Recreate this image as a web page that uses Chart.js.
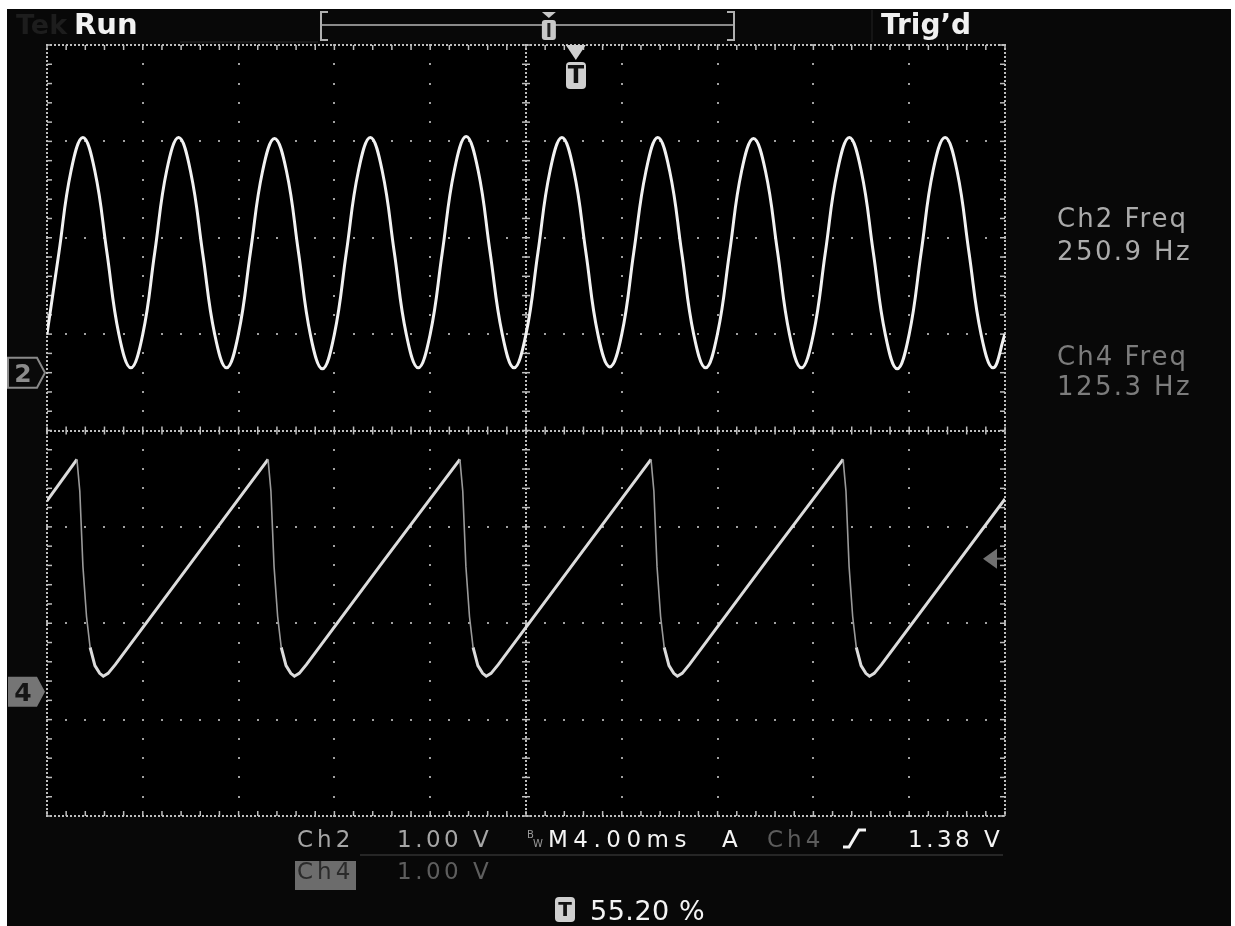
<!DOCTYPE html>
<html>
<head>
<meta charset="utf-8">
<script src="https://cdn.jsdelivr.net/npm/chart.js@4.4.1/dist/chart.umd.min.js"></script>
<style>
  html, body { margin: 0; padding: 0; background: #fff; }
  body { width: 1235px; height: 926px; position: relative; overflow: hidden; font-family: "DejaVu Sans", sans-serif; }
  #frame { position: absolute; left: 7px; top: 9px; width: 1224px; height: 917px; background: #080808; }
  #scope { position: absolute; left: 0; top: 0; }
  #deco { position: absolute; left: 0; top: 0; }
  .lbl { position: absolute; line-height: 1; white-space: pre; }
  .b { font-weight: bold; }
  .icon { position: absolute; background: #cfcfcf; border-radius: 4px; color: #111; font-weight: bold; text-align: center; }
</style>
</head>
<body>
<div id="frame"></div>
<canvas id="scope" width="1235" height="926"></canvas>
<svg id="deco" width="1235" height="926"></svg>

<!-- top bar -->
<div class="lbl b" style="left:16px;top:11px;font-size:27px;color:#1d1d1d">Tek</div>
<div class="lbl b" style="left:74px;top:10px;font-size:29px;color:#f2f2f2">Run</div>
<div class="lbl b" style="left:881px;top:11px;font-size:28px;color:#f0f0f0">Trig’d</div>

<!-- measurements -->
<div class="lbl" style="left:1057px;top:205px;font-size:26px;color:#ababab;letter-spacing:2px">Ch2 Freq</div>
<div class="lbl" style="left:1057px;top:238px;font-size:26px;color:#ababab;letter-spacing:2.4px">250.9 Hz</div>
<div class="lbl" style="left:1057px;top:343px;font-size:26px;color:#7c7c7c;letter-spacing:2px">Ch4 Freq</div>
<div class="lbl" style="left:1057px;top:373px;font-size:26px;color:#7c7c7c;letter-spacing:2.4px">125.3 Hz</div>

<!-- bottom readout -->
<div class="lbl" style="left:297px;top:828px;font-size:23px;color:#a6a6a6;letter-spacing:4px">Ch2</div>
<div class="lbl" style="left:397px;top:828px;font-size:23px;color:#a6a6a6;letter-spacing:3.5px">1.00 V</div>
<div class="lbl" style="left:527px;top:830px;font-size:10px;color:#999">B</div>
<div class="lbl" style="left:533px;top:839px;font-size:10px;color:#999">W</div>
<div class="lbl" style="left:548px;top:828px;font-size:23px;color:#f4f4f4;letter-spacing:5.5px">M4.00ms</div>
<div class="lbl" style="left:722px;top:828px;font-size:23px;color:#f4f4f4">A</div>
<div class="lbl" style="left:767px;top:828px;font-size:23px;color:#5c5c5c;letter-spacing:4px">Ch4</div>
<div class="lbl" style="left:908px;top:828px;font-size:23px;color:#f4f4f4;letter-spacing:3.5px">1.38 V</div>
<div style="position:absolute;left:295px;top:861px;width:61px;height:29px;background:#6c6c6c"></div>
<div class="lbl" style="left:297px;top:860px;font-size:23px;color:#2b2b2b;letter-spacing:4px">Ch4</div>
<div class="lbl" style="left:397px;top:860px;font-size:23px;color:#5e5e5e;letter-spacing:3.5px">1.00 V</div>
<div class="icon" style="left:555px;top:897px;width:20px;height:25px;font-size:20px;line-height:25px">T</div>
<div class="lbl" style="left:590px;top:897px;font-size:27px;color:#f4f4f4;letter-spacing:0.5px">55.20 %</div>

<script>
// Ch2: sine, sampled every 0.5 ms (volts)
const ch2Step = 0.5;
const ch2Volts = [
  0.40, 1.25, 2.09, 2.44, 2.09, 1.25, 0.40, 0.05,
  0.40, 1.25, 2.10, 2.44, 2.08, 1.24, 0.40, 0.05,
  0.41, 1.26, 2.09, 2.43, 2.09, 1.25, 0.39, 0.04,
  0.40, 1.25, 2.09, 2.44, 2.09, 1.25, 0.40, 0.05,
  0.40, 1.24, 2.09, 2.45, 2.10, 1.25, 0.41, 0.05,
  0.40, 1.25, 2.09, 2.44, 2.09, 1.25, 0.40, 0.06,
  0.40, 1.25, 2.08, 2.44, 2.09, 1.25, 0.40, 0.05,
  0.41, 1.25, 2.09, 2.43, 2.09, 1.26, 0.40, 0.05,
  0.40, 1.25, 2.09, 2.44, 2.09, 1.25, 0.40, 0.04,
  0.40, 1.25, 2.10, 2.44, 2.09, 1.24, 0.40, 0.05,
  0.40
];

// Ch4: sawtooth (ms, volts)
const ch4Times = [
  0,
  1.25, 1.37, 1.50, 1.65, 1.80, 2.00, 2.20, 2.35, 2.55, 2.85, 6.05,
  9.23, 9.35, 9.48, 9.63, 9.78, 9.98, 10.18, 10.33, 10.53, 10.83, 14.03,
  17.24, 17.36, 17.49, 17.64, 17.79, 17.99, 18.19, 18.34, 18.54, 18.84, 22.04,
  25.22, 25.34, 25.47, 25.62, 25.77, 25.97, 26.17, 26.32, 26.52, 26.82, 30.02,
  33.24, 33.36, 33.49, 33.64, 33.79, 33.99, 34.19, 34.34, 34.54, 34.84, 40.0
];
const ch4Volts = [
  1.98,
  2.41, 2.08, 1.30, 0.78, 0.46, 0.27, 0.19, 0.16, 0.19, 0.28, 1.35,
  2.41, 2.08, 1.30, 0.78, 0.46, 0.27, 0.19, 0.16, 0.19, 0.28, 1.35,
  2.41, 2.08, 1.30, 0.78, 0.46, 0.27, 0.19, 0.16, 0.19, 0.28, 1.35,
  2.41, 2.08, 1.30, 0.78, 0.46, 0.27, 0.19, 0.16, 0.19, 0.28, 1.35,
  2.41, 2.08, 1.30, 0.78, 0.46, 0.27, 0.19, 0.16, 0.19, 0.28, 2.00
];

const sweepMs = 40;          // 10 div x 4.00 ms
const ch2Range = [-4.6, 3.4]; // 1.00 V/div, 8 div
const ch4Range = [-1.29, 6.71];
const triggerPct = 55.2;
const triggerLevel = 1.38;

const graticule = {
  id: 'graticule',
  beforeDatasetsDraw(chart) {
    const { ctx, chartArea: a, scales: { x, yg } } = chart;
    ctx.save();
    ctx.fillStyle = '#000';
    ctx.fillRect(a.left, a.top, a.right - a.left, a.bottom - a.top);

    const dot = (px, py, c) => {
      ctx.fillStyle = c;
      ctx.fillRect(Math.round(px) - 1, Math.round(py) - 1, 2, 2);
    };
    const line = (x1, y1, x2, y2, c) => {
      ctx.strokeStyle = c;
      ctx.lineWidth = 1.5;
      ctx.beginPath();
      ctx.moveTo(x1, y1);
      ctx.lineTo(x2, y2);
      ctx.stroke();
    };

    // inner grid: dots every 1/5 division
    for (let i = 1; i < 10; i++) {
      if (i === 5) continue;
      const px = x.getPixelForValue(i * 4);
      for (let j = 0; j <= 40; j++) dot(px, yg.getPixelForValue(-4 + j * 0.2), '#a0a0a0');
    }
    for (let i = -3; i <= 3; i++) {
      if (i === 0) continue;
      const py = yg.getPixelForValue(i);
      for (let j = 0; j <= 50; j++) dot(x.getPixelForValue(j * 0.8), py, '#a0a0a0');
    }

    // center axes and border: dense dots + minor ticks
    const cx = x.getPixelForValue(sweepMs / 2);
    const cy = yg.getPixelForValue(0);
    const c = '#bdbdbd';
    for (let p = a.top; p <= a.bottom; p += 4) {
      dot(cx, p, c); dot(a.left, p, c); dot(a.right, p, c);
    }
    for (let p = a.left; p <= a.right; p += 4) {
      dot(p, cy, c); dot(p, a.top, c); dot(p, a.bottom, c);
    }
    for (let j = 0; j <= 40; j++) {
      const py = yg.getPixelForValue(-4 + j * 0.2);
      line(cx - 4, py, cx + 4, py, c);
      line(a.left, py, a.left + 5, py, c);
      line(a.right - 5, py, a.right, py, c);
    }
    for (let j = 0; j <= 50; j++) {
      const px = x.getPixelForValue(j * 0.8);
      line(px, cy - 4, px, cy + 4, c);
      line(px, a.top, px, a.top + 5, c);
      line(px, a.bottom - 5, px, a.bottom, c);
    }
    ctx.restore();
  }
};

const chart = new Chart(document.getElementById('scope'), {
  type: 'scatter',
  data: {
    datasets: [
      {
        label: 'Ch2',
        data: ch2Volts.map((v, i) => ({ x: i * ch2Step, y: v })),
        yAxisID: 'y2',
        showLine: true,
        borderColor: '#f2f2f2',
        borderWidth: 3,
        pointRadius: 0,
        tension: 0.42
      },
      {
        label: 'Ch4',
        data: ch4Times.map((t, i) => ({ x: t, y: ch4Volts[i] })),
        yAxisID: 'y4',
        showLine: true,
        borderColor: '#dcdcdc',
        borderWidth: 3,
        pointRadius: 0,
        tension: 0,
        segment: {
          borderColor: s => (s.p0.parsed.y - s.p1.parsed.y > 0.25 ? '#9a9a9a' : undefined),
          borderWidth: s => (s.p0.parsed.y - s.p1.parsed.y > 0.25 ? 1.6 : undefined)
        }
      }
    ]
  },
  options: {
    responsive: false,
    animation: false,
    layout: { padding: { left: 47, top: 45, right: 230, bottom: 110 } },
    plugins: { legend: { display: false }, tooltip: { enabled: false } },
    scales: {
      x: { type: 'linear', min: 0, max: sweepMs, display: false },
      y2: { min: ch2Range[0], max: ch2Range[1], display: false },
      y4: { min: ch4Range[0], max: ch4Range[1], display: false },
      yg: { min: -4, max: 4, display: false }
    }
  },
  plugins: [graticule]
});

// decorations placed from the chart scales
const svg = document.getElementById('deco');
function shape(tag, attrs) {
  const el = document.createElementNS('http://www.w3.org/2000/svg', tag);
  for (const k in attrs) el.setAttribute(k, attrs[k]);
  svg.appendChild(el);
  return el;
}

const xs = chart.scales.x;
const area = chart.chartArea;

// record bar at the top
const barL = 322, barR = 733;
shape('polyline', { points: '328,12 321,12 321,40 328,40', fill: 'none', stroke: '#b0b0b0', 'stroke-width': 2 });
shape('polyline', { points: '727,12 734,12 734,40 727,40', fill: 'none', stroke: '#b0b0b0', 'stroke-width': 2 });
shape('line', { x1: barL, y1: 25, x2: barR, y2: 25, stroke: '#8a8a8a', 'stroke-width': 2 });
const ux = barL + (barR - barL) * triggerPct / 100;
shape('polygon', { points: `${ux - 7},12 ${ux + 7},12 ${ux},18`, fill: '#c8c8c8' });
shape('rect', { x: ux - 7, y: 20, width: 14, height: 20, rx: 3, fill: '#c8c8c8' });
shape('line', { x1: ux, y1: 23, x2: ux, y2: 37, stroke: '#222', 'stroke-width': 3 });
shape('line', { x1: 180, y1: 42, x2: 318, y2: 42, stroke: '#2a2a2a', 'stroke-width': 1 });
shape('line', { x1: 872, y1: 10, x2: 872, y2: 42, stroke: '#222', 'stroke-width': 1 });

// trigger position marker
const tx = xs.getPixelForValue(sweepMs * triggerPct / 100);
shape('polygon', { points: `${tx - 10},${area.top} ${tx + 10},${area.top} ${tx},${area.top + 15}`, fill: '#cfcfcf' });
const tIcon = document.createElement('div');
tIcon.className = 'icon';
tIcon.textContent = 'T';
Object.assign(tIcon.style, { left: (tx - 10) + 'px', top: (area.top + 17) + 'px', width: '20px', height: '27px', fontSize: '24px', lineHeight: '27px' });
document.body.appendChild(tIcon);

// trigger level arrow on the right
const ty = chart.scales.y4.getPixelForValue(triggerLevel);
shape('polygon', { points: `${area.right - 22},${ty} ${area.right - 8},${ty - 10} ${area.right - 8},${ty + 10}`, fill: '#707070' });
shape('line', { x1: area.right - 8, y1: ty, x2: area.right, y2: ty, stroke: '#707070', 'stroke-width': 2 });

// channel ground markers
function groundMarker(y, label, filled) {
  const pts = `8,${y - 15} 37,${y - 15} 45,${y} 37,${y + 15} 8,${y + 15}`;
  if (filled) shape('polygon', { points: pts, fill: '#757575' });
  else shape('polygon', { points: pts, fill: '#0a0a0a', stroke: '#8a8a8a', 'stroke-width': 2 });
  const t = shape('text', { x: 23, y: y + 9, 'text-anchor': 'middle', 'font-family': 'DejaVu Sans', 'font-size': 25, 'font-weight': 'bold', fill: filled ? '#151515' : '#8c8c8c' });
  t.textContent = label;
}
groundMarker(chart.scales.y2.getPixelForValue(0), '2', false);
groundMarker(chart.scales.y4.getPixelForValue(0), '4', true);

// readout separators and slope symbol
shape('line', { x1: 360, y1: 855, x2: 1003, y2: 855, stroke: '#303030', 'stroke-width': 1.5 });
shape('polyline', { points: '843,847 849,847 859,830 866,830', fill: 'none', stroke: '#f4f4f4', 'stroke-width': 3 });
</script>
</body>
</html>
